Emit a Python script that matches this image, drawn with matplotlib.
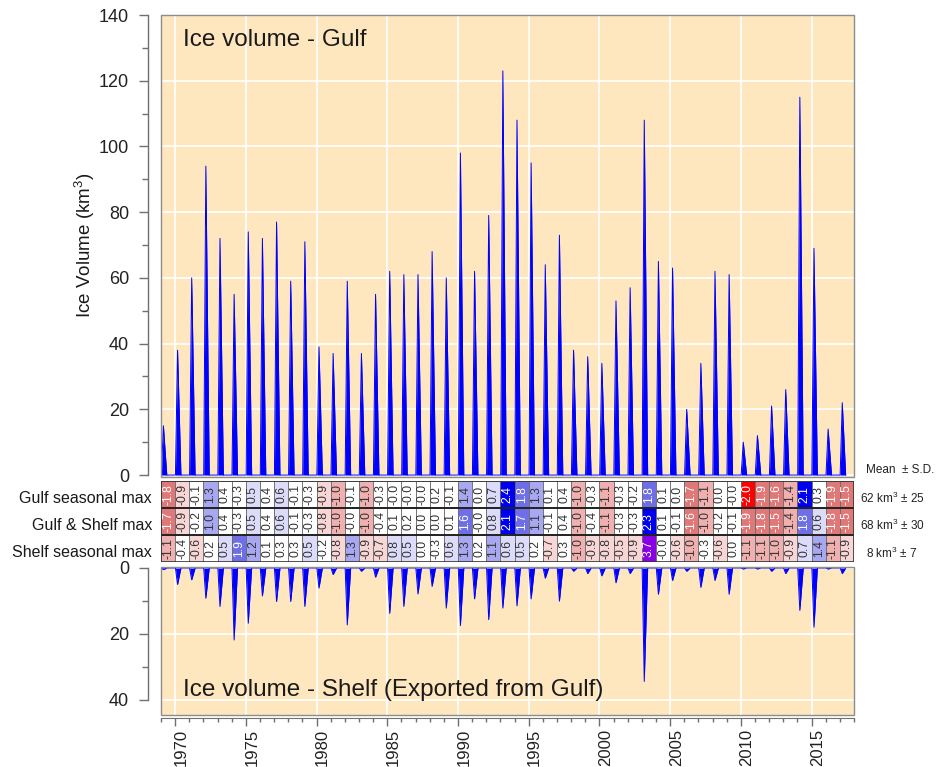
import matplotlib
matplotlib.use("Agg")
import matplotlib.pyplot as plt
from matplotlib.patches import Rectangle
from matplotlib.ticker import MultipleLocator, FixedLocator
from matplotlib.transforms import ScaledTranslation

plt.rcParams['font.family'] = ['Liberation Sans', 'DejaVu Sans']
plt.rcParams['mathtext.fontset'] = 'custom'
plt.rcParams['mathtext.rm'] = 'Liberation Sans'
plt.rcParams['mathtext.it'] = 'Liberation Sans'

# ---- data -------------------------------------------------------------
years = list(range(1969, 2018))

# seasonal maximum ice volume (km^3)
gulf_max = [15, 38, 60, 94, 72, 55, 74, 72, 77, 59,
            71, 39, 37, 59, 37, 55, 62, 61, 61, 68,
            60, 98, 62, 79, 123, 108, 95, 64, 73, 38,
            36, 34, 53, 57, 108, 65, 63, 20, 34, 62,
            61, 10, 12, 21, 26, 115, 69, 14, 22]

shelf_max = [0.5, 5, 3.6, 9.2, 11.7, 21.9, 16.8, 8.5, 10.2, 10.2,
             11.7, 6.1, 2.0, 17.3, 1.0, 2.8, 13.8, 11.7, 7.9, 5.6,
             12.2, 17.5, 9.4, 15.7, 12.2, 11.5, 9.4, 3.1, 10.1, 1.0,
             1.7, 2.4, 4.5, 1.7, 34.5, 8.0, 3.8, 1.0, 5.9, 3.8,
             8.0, 0.3, 0.3, 1.0, 1.7, 12.9, 18.0, 0.3, 1.7]

# standardized anomalies shown in the table
anom_gulf = [-1.8, -0.9, -0.1, 1.3, 0.4, -0.3, 0.5, 0.4, 0.6, -0.1,
             -0.3, -0.9, -1.0, -0.1, -1.0, -0.3, -0.0, -0.0, -0.0, 0.2,
             -0.1, 1.4, 0.0, 0.7, 2.4, 1.8, 1.3, 0.1, 0.4, -1.0,
             -0.3, -1.1, -0.3, -0.2, 1.8, 0.1, 0.0, -1.7, -1.1, 0.0,
             -0.0, -2.0, -1.9, -1.6, -1.4, 2.1, 0.3, -1.9, -1.5]

anom_total = [-1.7, -0.9, -0.2, 1.0, 0.4, -0.3, 0.5, 0.4, 0.6, -0.1,
              -0.3, -0.8, -1.0, -0.0, -1.0, -0.4, 0.1, 0.2, 0.0, 0.0,
              0.1, 1.6, -0.0, 0.8, 2.1, 1.7, 1.1, -0.1, 0.4, -1.0,
              -0.4, -1.1, -0.3, -0.3, 2.3, 0.1, -0.1, -1.6, -1.0, -0.2,
              -0.1, -1.9, -1.8, -1.5, -1.4, 1.8, 0.6, -1.8, -1.5]

anom_shelf = [-1.1, -0.4, -0.6, 0.2, 0.5, 1.9, 1.2, 0.1, 0.3, 0.3,
              0.5, -0.2, -0.8, 1.3, -0.9, -0.7, 0.8, 0.5, 0.0, -0.3,
              0.6, 1.3, 0.2, 1.1, 0.6, 0.5, 0.2, -0.7, 0.3, -1.0,
              -0.9, -0.8, -0.5, -0.9, 3.7, -0.0, -0.6, -1.0, -0.3, -0.6,
              0.0, -1.1, -1.1, -1.0, -0.9, 0.7, 1.4, -1.1, -0.9]

row_labels = ["Gulf seasonal max", "Gulf & Shelf max", "Shelf seasonal max"]
row_stats = ["62 km$^3$ \u00b1 25", "68 km$^3$ \u00b1 30", "8 km$^3$ \u00b1 7"]

# typical timing of the ice season relative to Jan 1 (years)
PEAK_OFFSET = 0.17
RISE = 0.15
FALL = 0.24

PANEL_BG = '#FEE7BF'
FRAME = '#8c8c8c'
AXIS_GREY = '#707070'


def season_series(values):
    t, v = [], []
    for yr, pk in zip(years, values):
        t += [yr + PEAK_OFFSET - RISE, yr + PEAK_OFFSET, yr + PEAK_OFFSET + FALL]
        v += [0.0, pk, 0.0]
    return t, v


def cell_colour(z):
    a = abs(z)
    if z >= 3.0:
        return '#8a00e6'
    if a < 0.5:
        return 'white'
    if z > 0:
        if a < 1.0:
            return '#dcdcfa'
        if a < 1.5:
            return '#a8a8f2'
        if a < 2.0:
            return '#6e6ee6'
        return '#0000f0'
    if a < 1.0:
        return '#f8d6d6'
    if a < 1.5:
        return '#f0b0b0'
    if a < 2.0:
        return '#e07878'
    return '#ff0000'


fig = plt.figure(figsize=(9.45, 7.67), dpi=100)
W, H = 945.0, 767.0
xl, xr = 161 / W, 854 / W


def ax_rect(top_px, bot_px):
    return [xl, 1 - bot_px / H, xr - xl, (bot_px - top_px) / H]


ax_top = fig.add_axes(ax_rect(15, 477))
ax_tab = fig.add_axes(ax_rect(481, 562))
ax_bot = fig.add_axes(ax_rect(567, 715))

XMIN, XMAX = 1969.0, 2018.0


def style_panel(ax):
    ax.set_facecolor(PANEL_BG)
    ax.set_xlim(XMIN, XMAX)
    for s in ('top', 'right', 'bottom'):
        ax.spines[s].set_visible(False)
    ax.spines['left'].set_position(('outward', 9))
    ax.spines['left'].set_color(AXIS_GREY)
    ax.spines['left'].set_linewidth(1.0)
    ax.add_patch(Rectangle((0, 0), 1, 1, transform=ax.transAxes, fill=False,
                           edgecolor=FRAME, lw=1.0, zorder=5, clip_on=False))
    ax.xaxis.set_major_locator(FixedLocator(list(range(1970, 2016, 5))))
    ax.grid(True, which='major', color='white', lw=1.2, zorder=0)
    ax.set_axisbelow(True)
    ax.tick_params(axis='y', which='major', length=6.5, width=1.0, color=AXIS_GREY,
                   labelsize=13, pad=7.5, labelcolor='#222222')
    ax.tick_params(axis='y', which='minor', length=4.3, width=1.0, color=AXIS_GREY)


# ---- top panel: Gulf ------------------------------------------------------
style_panel(ax_top)
t, v = season_series(gulf_max)
ax_top.fill_between(t, 0, v, color='#0000ff', lw=0, zorder=3)
ax_top.plot(t, v, color='#0000ff', lw=0.7, zorder=3)
ax_top.set_ylim(-0.6, 140)
ax_top.yaxis.set_major_locator(MultipleLocator(20))
ax_top.yaxis.set_minor_locator(MultipleLocator(10))
ax_top.spines['left'].set_bounds(0, 140)
ax_top.tick_params(axis='x', which='both', length=0, labelbottom=False)
ax_top.text(0.032, 0.945, "Ice volume - Gulf", transform=ax_top.transAxes,
            fontsize=17.5, color='#1a1a1a', va='center', ha='left', zorder=6)
fig.text(85 / W, 1 - 245 / H, "Ice Volume (km$^3$)", rotation=90, fontsize=13.5,
         ha='center', va='center', color='#1a1a1a')

# ---- bottom panel: Shelf --------------------------------------------------
style_panel(ax_bot)
t, v = season_series(shelf_max)
ax_bot.fill_between(t, 0, v, color='#0000ff', lw=0, zorder=3)
ax_bot.plot(t, v, color='#0000ff', lw=0.7, zorder=3)
ax_bot.set_ylim(44.7, -0.3)
ax_bot.yaxis.set_major_locator(MultipleLocator(20))
ax_bot.yaxis.set_minor_locator(MultipleLocator(10))
ax_bot.spines['left'].set_bounds(0, 40)
ax_bot.spines['bottom'].set_visible(True)
ax_bot.spines['bottom'].set_position(('outward', 2))
ax_bot.spines['bottom'].set_color(AXIS_GREY)
ax_bot.spines['bottom'].set_bounds(XMIN, XMAX)
ax_bot.xaxis.set_minor_locator(MultipleLocator(1))
ax_bot.tick_params(axis='x', which='major', length=6, width=1.0, color=AXIS_GREY,
                   labelsize=12, labelrotation=90, pad=2, labelcolor='#222222')
ax_bot.tick_params(axis='x', which='minor', length=3, width=1.0, color=AXIS_GREY)
shift = ScaledTranslation(6 / 100, 0, fig.dpi_scale_trans)
for lab in ax_bot.get_xticklabels():
    lab.set_transform(lab.get_transform() + shift)
ax_bot.text(0.032, 0.17, "Ice volume - Shelf (Exported from Gulf)",
            transform=ax_bot.transAxes, fontsize=17.5, color='#1a1a1a',
            va='center', ha='left', zorder=6)

# ---- anomaly table ----------------------------------------------------------
ax_tab.set_xlim(XMIN, XMAX)
ax_tab.set_ylim(0, 3)
ax_tab.axis('off')
for r, row in enumerate([anom_gulf, anom_total, anom_shelf]):
    y0 = 2 - r
    for yr, z in zip(years, row):
        ax_tab.add_patch(Rectangle((yr, y0), 1, 1, facecolor=cell_colour(z),
                                   edgecolor='#6a6a6a', lw=0.6))
        txt_col = 'white' if abs(z) >= 1.5 else '#333333'
        ax_tab.text(yr + 0.5, y0 + 0.5, f"{z:.1f}", rotation=90, ha='center',
                    va='center', fontsize=8.7, color=txt_col)
    ax_tab.text(-0.013, (y0 + 0.35) / 3, row_labels[r], transform=ax_tab.transAxes,
                ha='right', va='center', fontsize=11.5, color='#1a1a1a')
    fig.text(892 / W, 1 - (498 + 27.5 * r) / H, row_stats[r], ha='center',
             va='center', fontsize=8.5, color='#222222')
for yb in (1, 2):
    ax_tab.plot([XMIN, XMAX], [yb, yb], color='#222222', lw=1.4, zorder=4)
ax_tab.add_patch(Rectangle((XMIN, 0), XMAX - XMIN, 3, fill=False,
                           edgecolor='#333333', lw=1.2, zorder=4))
fig.text(866 / W, 1 - 470 / H, "Mean  \u00b1 S.D.", ha='left', va='center',
         fontsize=8.5, color='#222222')

fig.savefig("out.png", dpi=100)
